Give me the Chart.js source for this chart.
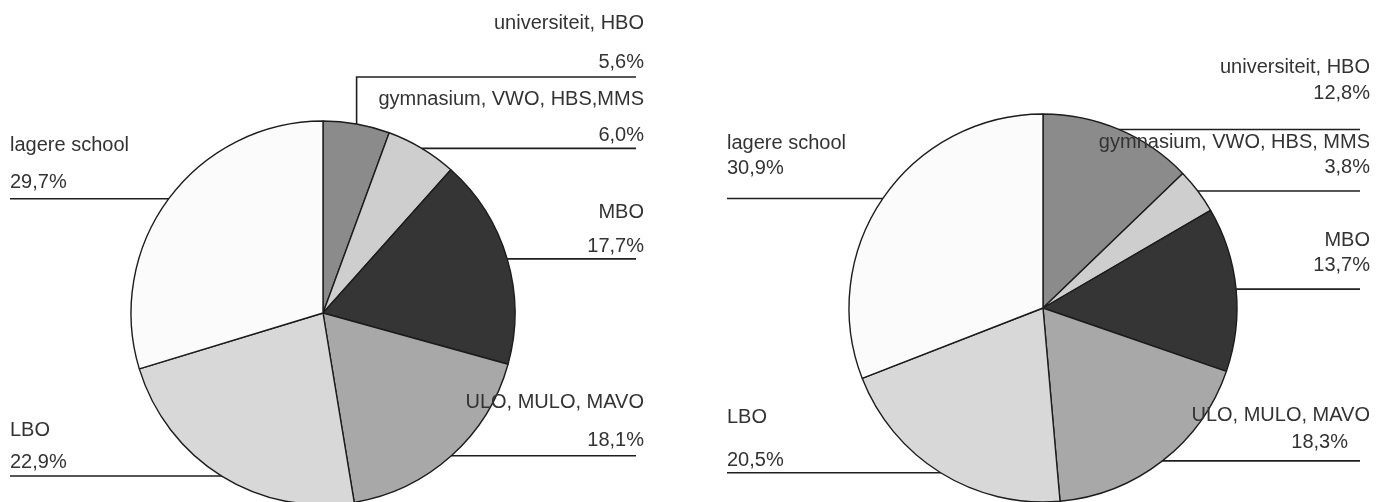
<!DOCTYPE html>
<html>
<head>
<meta charset="utf-8">
<title>Opleidingsniveau</title>
<script src="https://cdn.jsdelivr.net/npm/chart.js@4.4.0/dist/chart.umd.min.js"></script>
<style>
  html, body { margin: 0; padding: 0; background: #fff; overflow: hidden; }
  #wrap { position: relative; width: 1391px; height: 502px; overflow: hidden; }
  #wrap canvas { position: absolute; left: 0; top: 0; }
</style>
</head>
<body>
<div id="wrap">
  <canvas id="pie-left" width="1391" height="640"></canvas>
  <canvas id="pie-right" width="1391" height="640"></canvas>
</div>
<script>
'use strict';

//--------------------DATA
let leftLabels = ['universiteit, HBO', 'gymnasium, VWO, HBS,MMS', 'MBO', 'ULO, MULO, MAVO', 'LBO', 'lagere school'];
let rightLabels = ['universiteit, HBO', 'gymnasium, VWO, HBS, MMS', 'MBO', 'ULO, MULO, MAVO', 'LBO', 'lagere school'];
let leftValues = [5.6, 6.0, 17.7, 18.1, 22.9, 29.7];
let rightValues = [12.8, 3.8, 13.7, 18.3, 20.5, 30.9];

//--------------------STYLE
let sliceColors = ['#8b8b8b', '#cecece', '#353535', '#a8a8a8', '#d8d8d8', '#fbfbfb'];
let labelFont = '20px "Liberation Sans", Arial, sans-serif';

// where the text of each slice sits (page px), one entry per slice
let leftPlacement = [
  { side: 'right', nameY: 23, pctY: 62, elbowY: 77 },
  { side: 'right', nameY: 99, pctY: 135 },
  { side: 'right', nameY: 212, pctY: 246 },
  { side: 'right', nameY: 402, pctY: 440 },
  { side: 'left', nameY: 430, pctY: 462 },
  { side: 'left', nameY: 145, pctY: 182 }
];
let rightPlacement = [
  { side: 'right', nameY: 67, pctY: 93 },
  { side: 'right', nameY: 142, pctY: 167 },
  { side: 'right', nameY: 240, pctY: 265 },
  { side: 'right', nameY: 415, pctY: 442, pctX: 1348 },
  { side: 'left', nameY: 417, pctY: 460 },
  { side: 'left', nameY: 143, pctY: 168 }
];

//--------------------HELPERS
function pctText(v) {
  return v.toFixed(1).replace('.', ',') + '%';
}

// leader line from the middle of each slice's rim out to the label column
let leaderLabels = {
  id: 'leaderLabels',
  afterDatasetsDraw(chart, args, opts) {
    let ctx = chart.ctx;
    let arcs = chart.getDatasetMeta(0).data;
    let values = chart.data.datasets[0].data;

    ctx.save();
    ctx.strokeStyle = '#1f1f1f';
    ctx.lineWidth = 1.6;
    ctx.fillStyle = '#333';
    ctx.font = labelFont;
    ctx.textBaseline = 'middle';

    arcs.forEach(function (arc, i) {
      let a = arc.getProps(['x', 'y', 'startAngle', 'endAngle', 'outerRadius'], true);
      let p = opts.place[i];
      let mid = (a.startAngle + a.endAngle) / 2;
      let rimX = a.x + Math.cos(mid) * a.outerRadius;
      let rimY = a.y + Math.sin(mid) * a.outerRadius;
      let onRight = p.side === 'right';
      let lineEnd = onRight ? opts.lineRight : opts.lineLeft;

      ctx.beginPath();
      ctx.moveTo(rimX, rimY);
      if (p.elbowY !== undefined) {
        ctx.lineTo(rimX, p.elbowY);
        ctx.lineTo(lineEnd, p.elbowY);
      } else {
        ctx.lineTo(lineEnd, rimY);
      }
      ctx.stroke();

      let tx = onRight ? opts.textRight : opts.textLeft;
      ctx.textAlign = onRight ? 'right' : 'left';
      ctx.fillText(chart.data.labels[i], tx, p.nameY);
      ctx.fillText(pctText(values[i]), p.pctX || tx, p.pctY);
    });
    ctx.restore();
  }
};

function makePie(canvasId, labels, values, radius, padding, labelOpts) {
  return new Chart(document.getElementById(canvasId), {
    type: 'pie',
    data: {
      labels: labels,
      datasets: [{
        data: values,
        backgroundColor: sliceColors,
        borderColor: '#1c1c1c',
        borderWidth: 1.4,
        radius: radius
      }]
    },
    options: {
      responsive: false,
      animation: false,
      events: [],
      layout: { padding: padding },
      plugins: {
        legend: { display: false },
        tooltip: { enabled: false },
        leaderLabels: labelOpts
      }
    },
    plugins: [leaderLabels]
  });
}

//--------------------CHARTS
makePie('pie-left', leftLabels, leftValues, 192,
  { left: 0, top: 0, right: 745, bottom: 14 },
  { place: leftPlacement, lineLeft: 10, lineRight: 636, textLeft: 10, textRight: 644 });

makePie('pie-right', rightLabels, rightValues, 194,
  { left: 695, top: 0, right: 0, bottom: 24 },
  { place: rightPlacement, lineLeft: 727, lineRight: 1360, textLeft: 727, textRight: 1370 });
</script>
</body>
</html>
